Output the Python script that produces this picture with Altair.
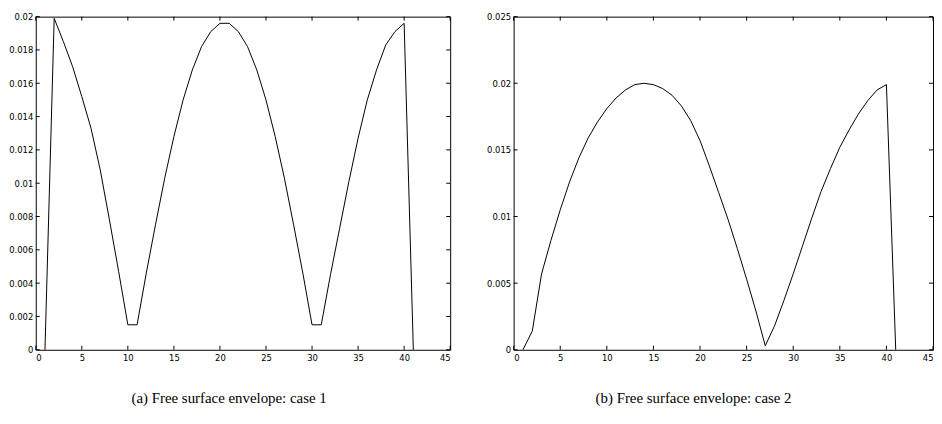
import altair as alt
import pandas as pd

# ---- data ----
x_vals = list(range(1, 42))

case1 = [0.0, 0.0199, 0.0185, 0.0170, 0.0152, 0.0133, 0.0108, 0.0078, 0.0047, 0.0015,
         0.0015, 0.0046, 0.0075, 0.0103, 0.0128, 0.0150, 0.0168, 0.0182, 0.0191, 0.0196,
         0.0196, 0.0191, 0.0182, 0.0168, 0.0150, 0.0128, 0.0103, 0.0075, 0.0046, 0.0015,
         0.0015, 0.0045, 0.0073, 0.0101, 0.0127, 0.0150, 0.0168, 0.0183, 0.0191, 0.0196,
         0.0]

case2 = [0.0, 0.0014, 0.0057, 0.0082, 0.0105, 0.0126, 0.0144, 0.0159, 0.0171, 0.0181,
         0.0189, 0.0195, 0.0199, 0.0200, 0.0199, 0.0196, 0.0191, 0.0183, 0.0172, 0.0157,
         0.0138, 0.0118, 0.0098, 0.0076, 0.0053, 0.0029, 0.0003, 0.0018, 0.0037, 0.0057,
         0.0078, 0.0099, 0.0119, 0.0136, 0.0152, 0.0165, 0.0177, 0.0187, 0.0195, 0.0199,
         0.0]

x_ticks = [0, 5, 10, 15, 20, 25, 30, 35, 40, 45]
y_ticks_a = [0, 0.002, 0.004, 0.006, 0.008, 0.01, 0.012, 0.014, 0.016, 0.018, 0.02]
y_ticks_b = [0, 0.005, 0.01, 0.015, 0.02, 0.025]

captions = ["(a) Free surface envelope: case 1", "(b) Free surface envelope: case 2"]

H = 336
TL = 4
LABEL_FONT = "DejaVu Sans"
LABEL_SIZE = 8.5


def panel(values, y_ticks, ymax, width, caption, dx):
    df = pd.DataFrame({"x": x_vals, "y": values})
    xs = alt.Scale(domain=[0, 45], nice=False, zero=False)
    ys = alt.Scale(domain=[0, ymax], nice=False, zero=False)
    xax = alt.Axis(values=x_ticks, ticks=False, domain=False, grid=False,
                   labelFont=LABEL_FONT, labelFontSize=LABEL_SIZE, labelColor="black",
                   labelPadding=4, format="~g")
    yax = alt.Axis(values=y_ticks, ticks=False, domain=False, grid=False,
                   labelFont=LABEL_FONT, labelFontSize=LABEL_SIZE, labelColor="black",
                   labelPadding=3, format="~g")

    line = alt.Chart(df).mark_line(color="black", strokeWidth=1).encode(
        x=alt.X("x:Q", scale=xs, title=None, axis=xax),
        y=alt.Y("y:Q", scale=ys, title=None, axis=yax),
    )

    xt = pd.DataFrame({"t": x_ticks})
    yt = pd.DataFrame({"t": y_ticks})
    tick_style = dict(color="black", strokeWidth=1)

    xb = alt.Chart(xt).mark_rule(**tick_style).encode(
        x=alt.X("t:Q", scale=xs, title=None, axis=xax), y=alt.value(H), y2=alt.value(H - TL))
    xtop = alt.Chart(xt).mark_rule(**tick_style).encode(
        x=alt.X("t:Q", scale=xs, title=None, axis=xax), y=alt.value(0), y2=alt.value(TL))
    yl = alt.Chart(yt).mark_rule(**tick_style).encode(
        y=alt.Y("t:Q", scale=ys, title=None, axis=yax), x=alt.value(0), x2=alt.value(TL))
    yr = alt.Chart(yt).mark_rule(**tick_style).encode(
        y=alt.Y("t:Q", scale=ys, title=None, axis=yax), x=alt.value(width), x2=alt.value(width - TL))

    return alt.layer(line, xb, xtop, yl, yr).properties(
        width=width, height=H,
        title=alt.TitleParams(caption, orient="bottom", anchor="middle", frame="group",
                              font="Liberation Serif", fontSize=15, fontWeight="normal",
                              color="black", offset=29, dx=dx),
    )


left = panel(case1, y_ticks_a, 0.02, 418, captions[0], -14)
right = panel(case2, y_ticks_b, 0.025, 423, captions[1], -30)

chart = alt.hconcat(left, right, spacing=35).properties(
    padding={"left": 0, "top": 2, "right": 0, "bottom": 0},
    background="white",
).configure_view(stroke="black", strokeWidth=1)

chart.save("out.html", embed_options={"renderer": "svg", "actions": False})
